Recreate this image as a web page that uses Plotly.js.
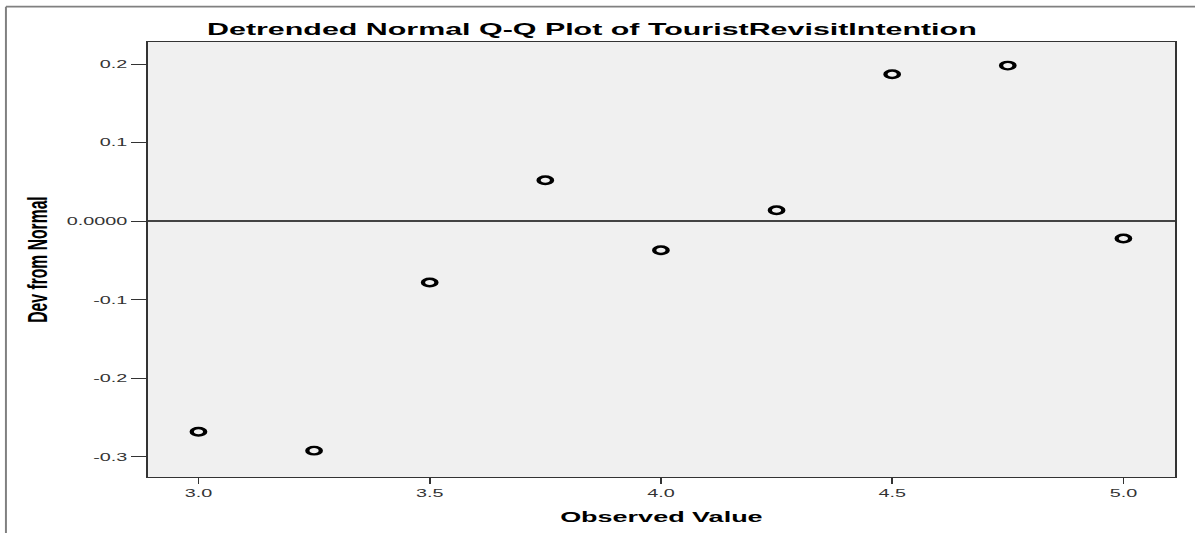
<!DOCTYPE html>
<html><head><meta charset="utf-8">
<script src="https://cdn.plot.ly/plotly-3.0.1.min.js"></script>
<style>
html,body{margin:0;padding:0;background:#fff;overflow:hidden;}
#wrap{width:1195px;height:533px;overflow:hidden;}
#chart{width:664px;height:533px;transform:scaleX(1.7997);transform-origin:0 0;}
</style></head><body><div id="wrap"><div id="chart"></div></div>
<script>
// Data
const observedValues = [3.0, 3.25, 3.5, 3.75, 4.0, 4.25, 4.5, 4.75, 5.0];
const devFromNormal = [-0.268, -0.292, -0.078, 0.052, -0.037, 0.014, 0.187, 0.198, -0.022];
const yTickValues = [-0.3, -0.2, -0.1, 0, 0.1, 0.2];
const yTickLabels = ['-0.3', '-0.2', '-0.1', '0.0000', '0.1', '0.2'];
const xTickValues = [3.0, 3.5, 4.0, 4.5, 5.0];
const xTickLabels = ['3.0', '3.5', '4.0', '4.5', '5.0'];

const W = 664, H = 533;
const M = {l: 82, r: 11, t: 42, b: 56, pad: 0};
const pw = W - M.l - M.r, ph = H - M.t - M.b;
const px = v => (v - M.l) / pw;          // native x pixel -> paper
const py = v => 1 - (v - M.t) / ph;      // y pixel -> paper

const font = 'Liberation Sans, Arial, sans-serif';

const trace = {
  type: 'scatter', mode: 'markers',
  x: observedValues, y: devFromNormal,
  marker: {symbol: 'circle-open', size: 7.5, color: '#000', line: {color: '#000', width: 2.4}},
  hoverinfo: 'x+y'
};

const layout = {
  width: W, height: H, margin: M,
  paper_bgcolor: '#ffffff', plot_bgcolor: '#f0f0f0',
  showlegend: false,
  font: {family: font, color: '#222'},
  title: {
    text: 'Detrended Normal Q-Q Plot of TouristRevisitIntention',
    font: {family: font, size: 16.9, weight: 'bold', color: '#000'},
    xref: 'container', x: 0.4953, xanchor: 'center',
    yref: 'container', y: 1 - 29 / 533, yanchor: 'middle'
  },
  xaxis: {
    range: [2.89, 5.112], tickmode: 'array', tickvals: xTickValues, ticktext: xTickLabels,
    showgrid: false, zeroline: false,
    showline: true, linecolor: '#333', linewidth: 1.4, mirror: true,
    ticks: 'outside', ticklen: 6, tickwidth: 1, tickcolor: '#333',
    tickfont: {family: font, size: 11, color: '#333'},
    title: {text: 'Observed Value', font: {family: font, size: 15, weight: 'bold', color: '#000'}, standoff: 13},
    automargin: false
  },
  yaxis: {
    range: [-0.3255, 0.228], tickmode: 'array', tickvals: yTickValues, ticktext: yTickLabels,
    showgrid: false,
    zeroline: true, zerolinecolor: '#444', zerolinewidth: 1.6,
    showline: true, linecolor: '#333', linewidth: 1.2, mirror: true,
    ticks: 'outside', ticklen: 8, tickwidth: 1.4, tickcolor: '#333',
    tickfont: {family: font, size: 11, color: '#333'},
    ticklabelstandoff: -1.5,
    title: {text: 'Dev from Normal', font: {family: font, size: 15.7, weight: 'bold', color: '#000'}, standoff: 6},
    automargin: false
  },
  shapes: [
    {type: 'line', xref: 'paper', yref: 'paper', x0: px(3.3), x1: px(3.3), y0: py(6.7), y1: py(H + 5),
     line: {color: '#808080', width: 1.1}},
    {type: 'line', xref: 'paper', yref: 'paper', x0: px(3.3), x1: px(W + 5), y0: py(6.7), y1: py(6.7),
     line: {color: '#808080', width: 1.8}}
  ]
};

Plotly.newPlot('chart', [trace], layout, {displayModeBar: false, staticPlot: false});
</script></body></html>
